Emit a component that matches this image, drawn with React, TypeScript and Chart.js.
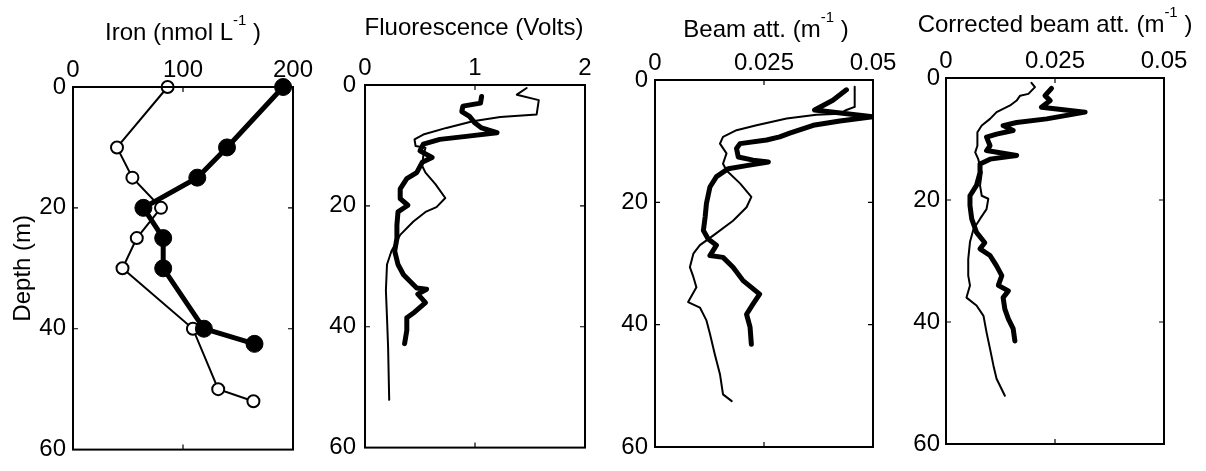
import React, { useEffect, useRef } from "react";
import { Chart, registerables } from "chart.js";
Chart.register(...registerables);

// ---------- shared axis data ----------
const depthTicks = [0, 20, 40, 60];
const depthTickLabels = ["0", "20", "40", "60"];
const depthLabel = "Depth (m)";

// ---------- Panel 1: Iron ----------
const ironTicks = [0, 100, 200];
const ironTickLabels = ["0", "100", "200"];
const ironTitle = ["Iron (nmol L", "-1", " )"];
const ironFilledDepth = [0, 10, 15, 20, 25, 30, 40, 42.5];
const ironFilledValue = [191, 140, 113, 64, 82, 82, 119, 165];
const ironOpenDepth = [0, 10, 15, 20, 25, 30, 40, 50, 52];
const ironOpenValue = [86, 40, 54, 80, 58, 45, 109, 132, 164];

// ---------- Panel 2: Fluorescence ----------
const fluorTicks = [0, 1, 2];
const fluorTickLabels = ["0", "1", "2"];
const fluorTitle = ["Fluorescence (Volts)", "", ""];
const fluorThickDepth = [1.9, 3.0, 3.5, 4.4, 5.2, 6.3, 7.1, 7.9, 8.5, 9.0, 9.8, 10.9, 12.0, 12.8, 14.5, 15.5, 17.2, 18.8, 19.9, 21.0, 23.2, 25.4, 27.5, 29.7, 31.4, 33.6, 33.8, 34.6, 36.0, 37.6, 38.5, 40.6, 42.8];
const fluorThickValue = [1.06, 1.05, 0.89, 0.88, 0.95, 1.0, 1.06, 1.2, 0.92, 0.68, 0.53, 0.5, 0.61, 0.52, 0.47, 0.38, 0.32, 0.32, 0.39, 0.3, 0.29, 0.29, 0.27, 0.3, 0.35, 0.47, 0.56, 0.48, 0.55, 0.45, 0.38, 0.38, 0.36];
const fluorThinDepth = [0.5, 1.6, 2.5, 4.9, 5.3, 6.0, 7.1, 8.2, 9.0, 10.1, 10.4, 11.7, 13.4, 14.5, 16.4, 18.7, 20.2, 21.0, 22.6, 24.8, 27.5, 29.7, 34.0, 38.5, 43.4, 52.1];
const fluorThinValue = [1.47, 1.38, 1.58, 1.56, 1.23, 0.98, 0.74, 0.53, 0.45, 0.46, 0.55, 0.53, 0.52, 0.55, 0.64, 0.73, 0.65, 0.55, 0.44, 0.32, 0.24, 0.2, 0.19, 0.2, 0.21, 0.22];

// ---------- Panel 3: Beam attenuation ----------
const beamTicks = [0, 0.025, 0.05];
const beamTickLabels = ["0", "0.025", "0.05"];
const beamTitle = ["Beam att. (m", "-1", " )"];
const beamThickDepth = [1.6, 3.3, 4.9, 6.0, 6.7, 7.4, 8.7, 9.3, 9.8, 10.4, 11.2, 12.6, 13.1, 13.4, 14.0, 14.5, 15.8, 17.5, 20.2, 22.4, 24.6, 26.0, 27.0, 28.7, 29.0, 30.6, 32.8, 35.0, 36.6, 38.3, 40.4, 43.2];
const beamThickValue = [0.0439, 0.0408, 0.0366, 0.05, 0.0424, 0.0363, 0.0309, 0.0286, 0.0256, 0.0195, 0.0187, 0.0191, 0.0225, 0.026, 0.021, 0.0168, 0.0141, 0.0126, 0.0118, 0.0115, 0.0111, 0.0122, 0.0141, 0.0126, 0.0156, 0.0179, 0.0202, 0.024, 0.0225, 0.021, 0.0218, 0.0221];
const beamThinDepth = [1.1, 4.4, 4.9, 5.5, 5.7, 6.3, 7.4, 8.2, 9.3, 10.4, 12.0, 13.7, 14.8, 16.9, 19.1, 20.8, 23.0, 25.4, 27.0, 28.4, 30.6, 32.2, 33.9, 36.3, 37.2, 39.3, 41.5, 44.8, 48.1, 51.4, 52.5];
const beamThinValue = [0.0458, 0.0458, 0.0439, 0.0424, 0.037, 0.0302, 0.0233, 0.0187, 0.0156, 0.0149, 0.0164, 0.0156, 0.0164, 0.0195, 0.0221, 0.021, 0.0179, 0.0134, 0.0103, 0.0088, 0.008, 0.0088, 0.0095, 0.0076, 0.0103, 0.0118, 0.0126, 0.0137, 0.0149, 0.0156, 0.0176];

// ---------- Panel 4: Corrected beam attenuation ----------
const corrTicks = [0, 0.025, 0.05];
const corrTickLabels = ["0", "0.025", "0.05"];
const corrTitle = ["Corrected beam att. (m", "-1", " )"];
const corrThickDepth = [1.7, 2.9, 3.7, 4.8, 5.6, 6.7, 7.3, 7.8, 8.6, 9.2, 9.7, 11.1, 11.9, 12.7, 13.3, 14.1, 15.5, 17.6, 19.3, 20.9, 23.1, 25.3, 27.0, 28.0, 29.1, 30.8, 32.4, 34.0, 34.9, 36.0, 37.9, 39.5, 41.1, 43.1];
const corrThickValue = [0.0242, 0.0227, 0.0239, 0.0219, 0.0319, 0.0231, 0.0162, 0.0131, 0.0154, 0.0116, 0.0093, 0.0101, 0.0093, 0.0162, 0.0101, 0.0078, 0.0078, 0.007, 0.0055, 0.0055, 0.0059, 0.007, 0.0089, 0.0078, 0.0101, 0.0116, 0.0128, 0.012, 0.0143, 0.0131, 0.0135, 0.0143, 0.0154, 0.0158];
const corrThinDepth = [0.8, 1.5, 2.6, 2.9, 3.7, 4.5, 5.6, 6.7, 7.8, 8.9, 11.1, 12.2, 13.3, 15.5, 17.6, 19.3, 19.8, 21.5, 23.1, 24.8, 26.9, 29.7, 32.4, 34.0, 36.0, 37.3, 39.0, 41.7, 44.4, 47.2, 49.3, 52.1];
const corrThinValue = [0.0196, 0.0204, 0.0189, 0.017, 0.0162, 0.0147, 0.0116, 0.0101, 0.0082, 0.0072, 0.0072, 0.0067, 0.0074, 0.0082, 0.0078, 0.0082, 0.0097, 0.0093, 0.0078, 0.0063, 0.0055, 0.0051, 0.0051, 0.0055, 0.0047, 0.007, 0.0086, 0.0093, 0.0101, 0.0109, 0.0116, 0.0135];

const FONT = '"Liberation Sans", Arial, Helvetica, sans-serif';
const W = 1206;
const H = 471;
const Y_AXIS_W = 75;
const RIGHT_PAD = 32;

const pts = (vals: number[], deps: number[]) => vals.map((v, i) => ({ x: v, y: deps[i] }));

type PanelDef = {
  area: { l: number; r: number; t: number; b: number };
  xMax: number;
  xTicks: number[];
  xTickLabels: string[];
  title: string[];
  titleX: number;
  titleBase: number;
  yTitle: boolean;
  yPad: number;
  datasets: any[];
};

const thin = (data: any[]) => ({
  data,
  showLine: true,
  borderColor: "#000",
  borderWidth: 2,
  pointRadius: 0,
  tension: 0,
  borderJoinStyle: "round",
  borderCapStyle: "round",
});
const thick = (data: any[]) => ({
  data,
  showLine: true,
  borderColor: "#000",
  borderWidth: 5,
  pointRadius: 0,
  tension: 0,
  borderJoinStyle: "round",
  borderCapStyle: "round",
});

const panels: PanelDef[] = [
  {
    area: { l: 73, r: 293, t: 87, b: 456 },
    xMax: 200,
    xTicks: ironTicks,
    xTickLabels: ironTickLabels,
    title: ironTitle,
    titleX: 183,
    titleBase: 40,
    yTitle: true,
    yPad: 7,
    datasets: [
      {
        data: pts(ironFilledValue, ironFilledDepth),
        showLine: true,
        borderColor: "#000",
        borderWidth: 5,
        pointRadius: 8.5,
        pointBackgroundColor: "#000",
        pointBorderColor: "#000",
        pointBorderWidth: 1,
        tension: 0,
        clip: false,
      },
      {
        data: pts(ironOpenValue, ironOpenDepth),
        showLine: true,
        borderColor: "#000",
        borderWidth: 2,
        pointRadius: 6,
        pointBackgroundColor: "#fff",
        pointBorderColor: "#000",
        pointBorderWidth: 2,
        tension: 0,
        clip: false,
      },
    ],
  },
  {
    area: { l: 365, r: 585, t: 85, b: 450 },
    xMax: 2,
    xTicks: fluorTicks,
    xTickLabels: fluorTickLabels,
    title: fluorTitle,
    titleX: 474,
    titleBase: 35,
    yTitle: false,
    yPad: 9,
    datasets: [thick(pts(fluorThickValue, fluorThickDepth)), thin(pts(fluorThinValue, fluorThinDepth))],
  },
  {
    area: { l: 655, r: 873, t: 80, b: 447 },
    xMax: 0.05,
    xTicks: beamTicks,
    xTickLabels: beamTickLabels,
    title: beamTitle,
    titleX: 766,
    titleBase: 37,
    yTitle: false,
    yPad: 7,
    datasets: [thick(pts(beamThickValue, beamThickDepth)), thin(pts(beamThinValue, beamThinDepth))],
  },
  {
    area: { l: 946, r: 1164, t: 78, b: 444 },
    xMax: 0.05,
    xTicks: corrTicks,
    xTickLabels: corrTickLabels,
    title: corrTitle,
    titleX: 1055,
    titleBase: 32,
    yTitle: false,
    yPad: 6,
    datasets: [thick(pts(corrThickValue, corrThickDepth)), thin(pts(corrThinValue, corrThinDepth))],
  },
];

function Panel({ def }: { def: PanelDef }) {
  const ref = useRef<HTMLCanvasElement | null>(null);
  const canvasLeft = def.area.l - Y_AXIS_W;
  const canvasW = def.area.r - def.area.l + Y_AXIS_W + RIGHT_PAD;

  useEffect(() => {
    if (!ref.current) return;
    const a = def.area;
    const framePlugin = {
      id: "frame",
      afterDatasetsDraw(chart: any) {
        const ctx = chart.ctx;
        const ca = chart.chartArea;
        ctx.save();
        ctx.strokeStyle = "#000";
        ctx.lineWidth = 2;
        ctx.strokeRect(ca.left, ca.top, ca.right - ca.left, ca.bottom - ca.top);
        ctx.lineWidth = 1.2;
        const xs = chart.scales.x;
        const ys = chart.scales.y;
        ctx.beginPath();
        def.xTicks.slice(1, -1).forEach((v) => {
          const px = xs.getPixelForValue(v);
          ctx.moveTo(px, ca.top);
          ctx.lineTo(px, ca.top + 5);
          ctx.moveTo(px, ca.bottom);
          ctx.lineTo(px, ca.bottom - 5);
        });
        depthTicks.slice(1, -1).forEach((v) => {
          const py = ys.getPixelForValue(v);
          ctx.moveTo(ca.left, py);
          ctx.lineTo(ca.left + 5, py);
          ctx.moveTo(ca.right, py);
          ctx.lineTo(ca.right - 5, py);
        });
        ctx.stroke();
        ctx.restore();
      },
      afterDraw(chart: any) {
        const ctx = chart.ctx;
        ctx.save();
        ctx.fillStyle = "#000";
        ctx.textBaseline = "alphabetic";
        ctx.textAlign = "left";
        const mainFont = `24px ${FONT}`;
        const supFont = `15px ${FONT}`;
        const [p0, sup, p2] = def.title;
        ctx.font = mainFont;
        const w0 = ctx.measureText(p0).width;
        const w2 = p2 ? ctx.measureText(p2).width : 0;
        ctx.font = supFont;
        const w1 = sup ? ctx.measureText(sup).width : 0;
        const total = w0 + w1 + w2;
        let x = def.titleX - canvasLeft - total / 2;
        const base = def.titleBase;
        ctx.font = mainFont;
        ctx.fillText(p0, x, base);
        x += w0;
        if (sup) {
          ctx.font = supFont;
          ctx.fillText(sup, x, base - 15);
          x += w1;
        }
        if (p2) {
          ctx.font = mainFont;
          ctx.fillText(p2, x, base);
        }
        ctx.restore();
      },
    };

    const tickFont = { family: FONT, size: 24, lineHeight: 1.2 };
    const chart = new Chart(ref.current, {
      type: "scatter",
      data: { datasets: def.datasets },
      options: {
        responsive: false,
        animation: false,
        events: [],
        layout: { padding: { left: 0, top: 0, right: RIGHT_PAD, bottom: H - a.b } },
        plugins: { legend: { display: false }, tooltip: { enabled: false }, title: { display: false } },
        scales: {
          x: {
            type: "linear",
            position: "top",
            min: 0,
            max: def.xMax,
            afterBuildTicks: (s: any) => {
              s.ticks = def.xTicks.map((v) => ({ value: v }));
            },
            ticks: {
              callback: (_v: any, i: number) => def.xTickLabels[i],
              font: tickFont,
              color: "#000",
              padding: 2,
              maxRotation: 0,
              minRotation: 0,
              autoSkip: false,
            },
            grid: { display: false, drawTicks: false },
            border: { display: false },
            afterFit: (s: any) => {
              s.height = a.t;
            },
          },
          y: {
            type: "linear",
            position: "left",
            reverse: true,
            min: 0,
            max: 60,
            afterBuildTicks: (s: any) => {
              s.ticks = depthTicks.map((v) => ({ value: v }));
            },
            ticks: {
              callback: (_v: any, i: number) => depthTickLabels[i],
              font: tickFont,
              color: "#000",
              padding: def.yPad,
              autoSkip: false,
            },
            title: {
              display: def.yTitle,
              text: depthLabel,
              color: "#000",
              font: { family: FONT, size: 24, lineHeight: 1.2 },
              padding: { top: 11, bottom: 0 },
            },
            grid: { display: false, drawTicks: false },
            border: { display: false },
            afterFit: (s: any) => {
              s.width = Y_AXIS_W;
            },
          },
        },
      } as any,
      plugins: [framePlugin],
    });
    return () => chart.destroy();
  }, []);

  return (
    <canvas
      ref={ref}
      width={canvasW}
      height={H}
      style={{ position: "absolute", left: canvasLeft, top: 0, width: canvasW, height: H }}
    />
  );
}

export default function App() {
  return (
    <div style={{ position: "absolute", left: 0, top: 0, width: W, height: H, background: "#fff", overflow: "hidden" }}>
      {panels.map((p, i) => (
        <Panel key={i} def={p} />
      ))}
    </div>
  );
}
